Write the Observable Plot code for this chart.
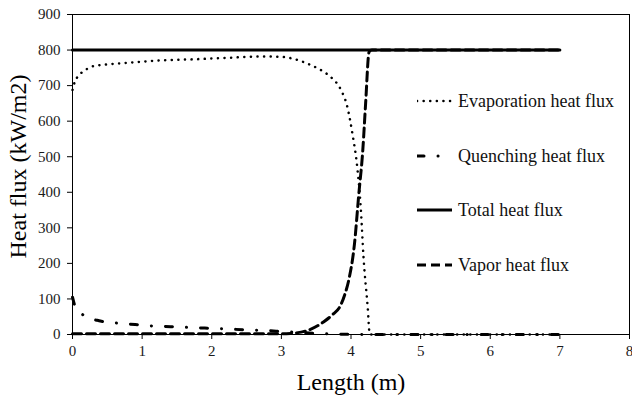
<!DOCTYPE html>
<html>
<head>
<meta charset="utf-8">
<script src="https://cdn.jsdelivr.net/npm/d3@7"></script>
<script src="https://cdn.jsdelivr.net/npm/@observablehq/plot@0.6"></script>
<style>
  html, body { margin: 0; padding: 0; background: #fff; }
  #chart { position: relative; width: 632px; height: 401px; }
  #legend { position: absolute; left: 417px; top: 0; font-family: "Liberation Serif", "Times New Roman", serif; font-size: 18px; color: #111; }
  .row { position: absolute; left: 0; display: flex; align-items: center; white-space: nowrap; height: 20px; }
  .row svg { display: block; margin-right: 5px; }
</style>
</head>
<body>
<div id="chart"></div>
<script>
// Heat flux components along the channel length
const evapLength = [0, 0.01, 0.03, 0.07, 0.14, 0.21, 0.3, 0.47, 0.79, 1.26, 1.74, 2.22, 2.7, 2.99, 3.2, 3.42, 3.6, 3.71, 3.85, 3.95, 4.02, 4.09, 4.14, 4.18, 4.24, 4.27, 5, 6, 7];
const evapFlux   = [688, 692, 710, 724, 738, 747, 755, 759, 764, 771, 774, 778, 782, 781, 774, 758, 740, 724, 690, 638, 565, 470, 357, 217, 76, 0, 0, 0, 0];

const quenchLength = [0, 0.04, 0.16, 0.4, 0.65, 0.9, 1.15, 1.41, 1.65, 1.9, 2.17, 2.5, 2.8, 3.03, 3.23, 3.5, 3.8, 4.2, 5, 6, 7];
const quenchFlux   = [105, 78, 54, 38, 32, 28, 24, 22, 20, 18, 16, 13, 11, 8, 6, 3, 1, 0, 0, 0, 0];

const totalLength = [0, 7];
const totalFlux   = [800, 800];

const vaporLength = [0, 1, 2, 3, 3.13, 3.37, 3.61, 3.73, 3.85, 3.91, 3.97, 4.05, 4.11, 4.17, 4.21, 4.26, 4.3, 5, 6, 7];
const vaporFlux   = [2, 2, 2, 2, 3, 11, 36, 55, 82, 112, 155, 255, 390, 520, 650, 795, 800, 800, 800, 800];

const xTicks = [0, 1, 2, 3, 4, 5, 6, 7, 8];
const yTicks = [0, 100, 200, 300, 400, 500, 600, 700, 800, 900];

const seriesNames = ["Evaporation heat flux", "Quenching heat flux", "Total heat flux", "Vapor heat flux"];
const xTitle = "Length (m)";
const yTitle = "Heat flux (kW/m2)";

const toRows = (xs, ys) => xs.map((x, i) => ({x, y: ys[i]}));
const evap = toRows(evapLength, evapFlux);
const quench = toRows(quenchLength, quenchFlux);
const total = toRows(totalLength, totalFlux);
const vapor = toRows(vaporLength, vaporFlux);

const serif = "Liberation Serif, Times New Roman, serif";

// line styles shared by the plot and the legend
const styles = [
  {dash: "0.1,6.5", width: 2.5, cap: "round"},
  {dash: "7,14,0.1,14", width: 3, cap: "round"},
  {dash: null, width: 3, cap: "butt"},
  {dash: "9,5", width: 3, cap: "butt"}
];

const chart = Plot.plot({
  width: 632,
  height: 401,
  marginLeft: 72,
  marginRight: 3,
  marginTop: 14,
  marginBottom: 67,
  style: {fontFamily: serif, background: "#fff"},
  x: {domain: [0, 8]},
  y: {domain: [0, 900]},
  marks: [
    Plot.line(total, {x: "x", y: "y", stroke: "#000", strokeWidth: styles[2].width}),
    Plot.line(quench, {x: "x", y: "y", curve: "monotone-x", stroke: "#000", strokeWidth: styles[1].width, strokeDasharray: styles[1].dash, strokeLinecap: styles[1].cap}),
    Plot.line(evap, {x: "x", y: "y", curve: "monotone-x", stroke: "#000", strokeWidth: styles[0].width, strokeDasharray: styles[0].dash, strokeLinecap: styles[0].cap}),
    Plot.line(vapor, {x: "x", y: "y", curve: "monotone-x", stroke: "#000", strokeWidth: styles[3].width, strokeDasharray: styles[3].dash}),
    Plot.frame({stroke: "#000", strokeWidth: 1}),
    Plot.axisX({ticks: xTicks, tickSize: 5, tickPadding: 6, label: null, fontSize: 15, fontFamily: serif, fill: "#1a1a1a"}),
    Plot.axisY({ticks: yTicks, tickSize: 5, tickPadding: 7, label: null, fontSize: 15, fontFamily: serif, fill: "#1a1a1a"}),
    Plot.text([xTitle], {frameAnchor: "bottom", textAnchor: "middle", lineAnchor: "middle", dy: 48, fontSize: 24, fontFamily: serif, fill: "#000"}),
    Plot.text([yTitle], {frameAnchor: "left", textAnchor: "middle", lineAnchor: "middle", rotate: -90, dx: -54, dy: -8, fontSize: 24, fontFamily: serif, fill: "#000"})
  ]
});
document.getElementById("chart").appendChild(chart);

// Legend sitting inside the plotting area
const legend = document.createElement("div");
legend.id = "legend";
const rowTops = [91, 146, 200, 255];
seriesNames.forEach((name, i) => {
  const row = document.createElement("div");
  row.className = "row";
  row.style.top = rowTops[i] + "px";
  const s = styles[i];
  row.innerHTML = `<svg width="36" height="20"><line x1="0" x2="35" y1="10" y2="10" stroke="#000" stroke-width="${s.width}" ${s.dash ? `stroke-dasharray="${s.dash}"` : ""} stroke-linecap="${s.cap}"/></svg><span>${name}</span>`;
  legend.appendChild(row);
});
document.getElementById("chart").appendChild(legend);
</script>
</body>
</html>
